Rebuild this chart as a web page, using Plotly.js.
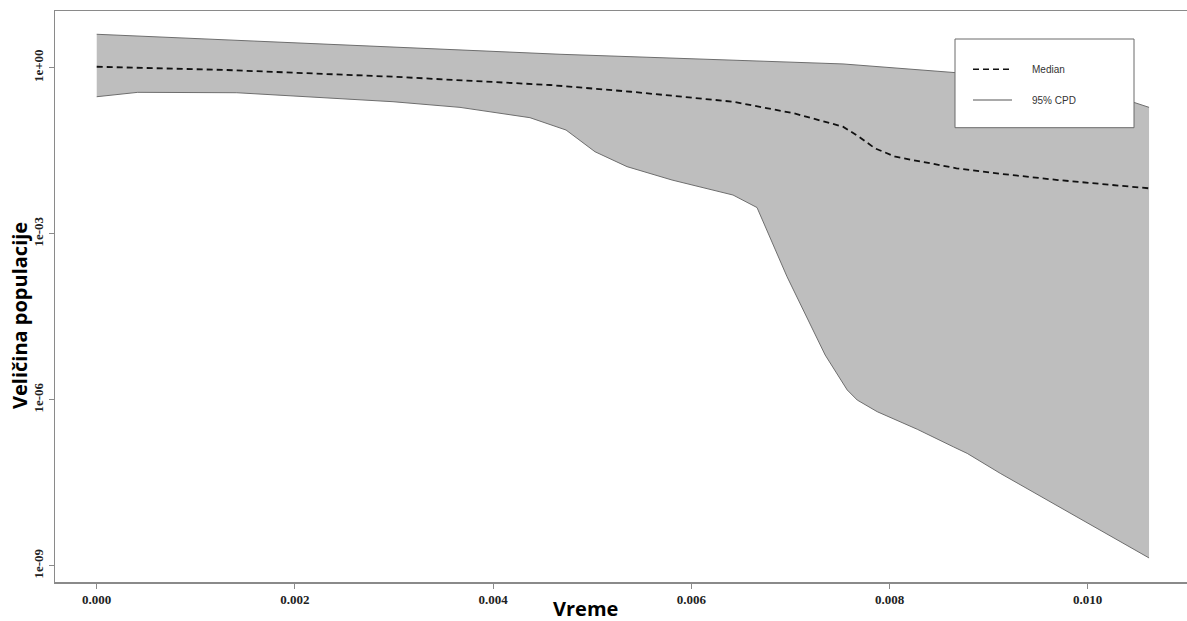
<!DOCTYPE html>
<html>
<head>
<meta charset="utf-8">
<script src="https://cdn.plot.ly/plotly-3.0.1.min.js"></script>
<style>
  html, body { margin: 0; padding: 0; background: #ffffff; }
  #chart { width: 1187px; height: 621px; }
</style>
</head>
<body>
<div id="chart"></div>
<script>
// Bayesian skyline: median population size with 95% CPD band
const timeUpper = [0, 0.002051, 0.004675, 0.007531, 0.008683, 0.00954, 0.010477, 0.010619];
const upper     = [4.02, 2.80, 1.75, 1.17, 0.81, 0.50, 0.233, 0.192];

const timeMedian = [0, 0.001312, 0.00299, 0.004574, 0.005392, 0.006421, 0.007036, 0.00753,
                    0.007692, 0.007853, 0.00806, 0.008676, 0.009085, 0.0097, 0.010619];
const median     = [1.04, 0.909, 0.688, 0.487, 0.368, 0.243, 0.150, 0.0859,
                    0.0566, 0.0349, 0.0246, 0.0152, 0.0123, 0.00933, 0.00661];

const timeLower = [0, 0.000414, 0.001413, 0.00299, 0.003666, 0.004372, 0.004736, 0.005028,
                   0.005351, 0.005806, 0.006421, 0.006663, 0.006966, 0.0072, 0.007351,
                   0.007573, 0.007674, 0.007876, 0.00828, 0.008643, 0.008784, 0.009117, 0.010619];
const lower     = [0.299, 0.359, 0.353, 0.243, 0.192, 0.125, 0.0748, 0.0303,
                   0.0163, 0.00933, 0.00500, 0.00297, 1.67e-4, 2.40e-5, 6.41e-6,
                   1.50e-6, 9.86e-7, 6.07e-7, 2.92e-7, 1.41e-7, 1.07e-7, 4.67e-8, 1.38e-9];

const xTickVals = [0, 0.002, 0.004, 0.006, 0.008, 0.010];
const xTickText = ['0.000', '0.002', '0.004', '0.006', '0.008', '0.010'];
const yTickVals = [1, 1e-3, 1e-6, 1e-9];
const yTickText = ['1e+00', '1e-03', '1e-06', '1e-09'];

const legendNames = ['Median', '95% CPD'];
const xTitle = 'Vreme';
const yTitle = 'Veličina populacije';

// page geometry
const W = 1187, H = 621;
const M = { l: 55, r: 0, t: 11, b: 39 };
const plotW = W - M.l - M.r, plotH = H - M.t - M.b;
const px = x => (x - M.l) / plotW;          // pixel -> paper x
const py = y => (H - M.b - y) / plotH;      // pixel -> paper y

const bandEdge = '#6e6e6e';
const traces = [
  {
    x: timeUpper, y: upper, type: 'scatter', mode: 'lines',
    line: { color: bandEdge, width: 1 }, hoverinfo: 'skip', showlegend: false
  },
  {
    x: timeLower, y: lower, type: 'scatter', mode: 'lines',
    fill: 'tonexty', fillcolor: '#bebebe',
    line: { color: bandEdge, width: 1 }, hoverinfo: 'skip', showlegend: false
  },
  {
    x: timeMedian, y: median, type: 'scatter', mode: 'lines',
    line: { color: '#111111', width: 1.8, dash: '6px,4px' },
    showlegend: false
  }
];

const tickFont = { family: '"Liberation Serif", "Times New Roman", serif', size: 13, color: '#222', weight: 'bold' };
const titleFont = { family: '"Open Sans", sans-serif', size: 20, color: '#000', weight: 'bold' };
const legFont = { family: '"Liberation Sans", Arial, sans-serif', size: 10, color: '#333' };

// legend box drawn in paper space
const box = { x0: 955, x1: 1134, y0: 39, y1: 127.7 };
const rowY = [69.3, 100];
const shapes = [
  { type: 'rect', xref: 'paper', yref: 'paper', layer: 'above',
    x0: px(box.x0), x1: px(box.x1), y0: py(box.y1), y1: py(box.y0),
    line: { color: '#6a6a6a', width: 1 }, fillcolor: '#ffffff' },
  { type: 'line', xref: 'paper', yref: 'paper', layer: 'above',
    x0: px(973), x1: px(1010), y0: py(rowY[0]), y1: py(rowY[0]),
    line: { color: '#111111', width: 1.5, dash: '6px,4px' } },
  { type: 'line', xref: 'paper', yref: 'paper', layer: 'above',
    x0: px(973), x1: px(1012), y0: py(rowY[1]), y1: py(rowY[1]),
    line: { color: '#555555', width: 1 } }
];

const annotations = [
  { text: legendNames[0], xref: 'paper', yref: 'paper', x: px(1030), y: py(rowY[0]),
    xanchor: 'left', yanchor: 'middle', showarrow: false, font: legFont },
  { text: legendNames[1], xref: 'paper', yref: 'paper', x: px(1030), y: py(rowY[1]),
    xanchor: 'left', yanchor: 'middle', showarrow: false, font: legFont },
  { text: xTitle, xref: 'paper', yref: 'paper', x: px(585), y: py(608),
    xanchor: 'center', yanchor: 'middle', showarrow: false, font: titleFont },
  { text: yTitle, xref: 'paper', yref: 'paper', x: px(19), y: py(316),
    xanchor: 'center', yanchor: 'middle', textangle: -90, showarrow: false, font: titleFont }
];

const layout = {
  width: W, height: H,
  margin: M,
  paper_bgcolor: '#ffffff', plot_bgcolor: '#ffffff',
  showlegend: false,
  xaxis: {
    range: [-0.000421, 0.011002], showgrid: false, zeroline: false,
    showline: true, linecolor: '#8a8a8a', linewidth: 1.5, mirror: true,
    ticks: 'outside', ticklen: 5, tickcolor: '#8a8a8a', tickwidth: 1,
    tickvals: xTickVals, ticktext: xTickText, tickfont: tickFont
  },
  yaxis: {
    type: 'log', range: [-9.295, 1.025], showgrid: false, zeroline: false,
    showline: true, linecolor: '#8a8a8a', linewidth: 1.5,
    ticks: 'outside', ticklen: 5, tickcolor: '#8a8a8a', tickwidth: 1,
    tickvals: yTickVals, ticktext: yTickText, tickangle: -90, tickfont: tickFont
  },
  shapes: shapes,
  annotations: annotations
};

Plotly.newPlot('chart', traces, layout, { displayModeBar: false, staticPlot: true });
</script>
</body>
</html>
